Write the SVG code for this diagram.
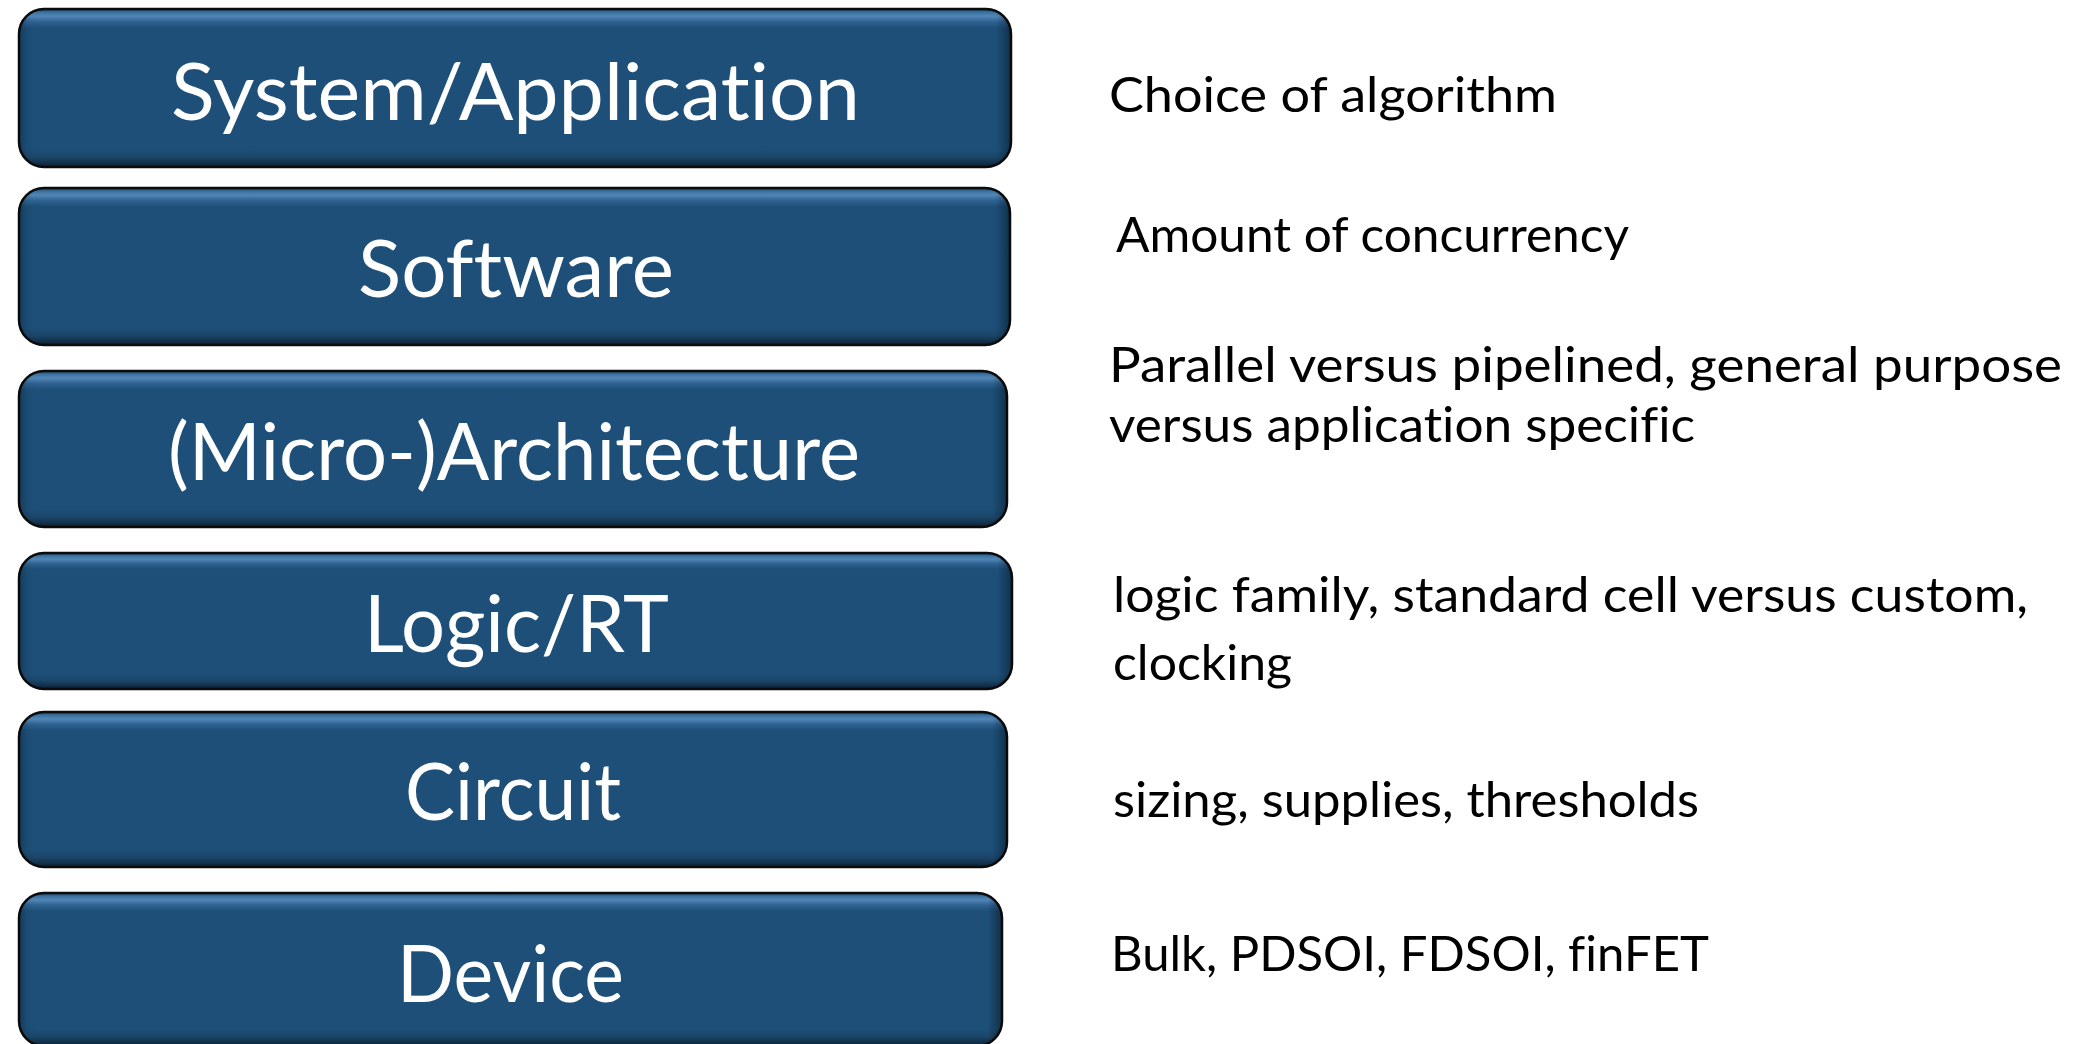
<svg xmlns="http://www.w3.org/2000/svg" width="2087" height="1044" viewBox="0 0 2087 1044">
  <defs>
    <linearGradient id="vgrad" x1="0" y1="0" x2="0" y2="1">
      <stop offset="0" stop-color="#16405f"/>
      <stop offset="0.02" stop-color="#3a6f9e"/>
      <stop offset="0.045" stop-color="#5187b7"/>
      <stop offset="0.08" stop-color="#2f6291"/>
      <stop offset="0.12" stop-color="#1d4f78"/>
      <stop offset="0.89" stop-color="#1d4f78"/>
      <stop offset="0.94" stop-color="#1a4568"/>
      <stop offset="0.975" stop-color="#12304a"/>
      <stop offset="1" stop-color="#0c1f30"/>
    </linearGradient>
    <linearGradient id="hgrad" x1="0" y1="0" x2="1" y2="0">
      <stop offset="0" stop-color="#000" stop-opacity="0.25"/>
      <stop offset="0.008" stop-color="#000" stop-opacity="0.05"/>
      <stop offset="0.015" stop-color="#000" stop-opacity="0"/>
      <stop offset="0.985" stop-color="#000" stop-opacity="0"/>
      <stop offset="0.993" stop-color="#000" stop-opacity="0.2"/>
      <stop offset="1" stop-color="#000" stop-opacity="0.4"/>
    </linearGradient>
  </defs>
  <style>
    .box { fill: url(#vgrad); stroke: #0b0b0b; stroke-width: 2.5; }
    .shade { fill: url(#hgrad); stroke: none; }
    .label { font-family: Lato, "Liberation Sans", sans-serif; font-size: 80px; fill: #ffffff; font-variant-ligatures: none; }
    .note { font-family: Lato, "Liberation Sans", sans-serif; font-size: 48px; fill: #000000; font-variant-ligatures: none; }
  </style>
  <rect width="2087" height="1044" fill="#ffffff"/>

  <g id="node-system">
    <rect class="box" x="19" y="9" width="992" height="158" rx="25" ry="25"/>
    <rect class="shade" x="19" y="9" width="992" height="158" rx="25" ry="25"/>
    <text class="label" x="171" y="120" textLength="689" lengthAdjust="spacingAndGlyphs">System/Application</text>
  </g>
  <g id="node-software">
    <rect class="box" x="19" y="188" width="991" height="157" rx="25" ry="25"/>
    <rect class="shade" x="19" y="188" width="991" height="157" rx="25" ry="25"/>
    <text class="label" x="358" y="297" textLength="316" lengthAdjust="spacingAndGlyphs">Software</text>
  </g>
  <g id="node-architecture">
    <rect class="box" x="19" y="371" width="988" height="156" rx="25" ry="25"/>
    <rect class="shade" x="19" y="371" width="988" height="156" rx="25" ry="25"/>
    <text class="label" x="168" y="480" textLength="692" lengthAdjust="spacingAndGlyphs">(Micro-)Architecture</text>
  </g>
  <g id="node-logic">
    <rect class="box" x="19" y="553" width="993" height="136" rx="25" ry="25"/>
    <rect class="shade" x="19" y="553" width="993" height="136" rx="25" ry="25"/>
    <text class="label" x="364" y="652" textLength="305" lengthAdjust="spacingAndGlyphs">Logic/RT</text>
  </g>
  <g id="node-circuit">
    <rect class="box" x="19" y="712" width="988" height="155" rx="25" ry="25"/>
    <rect class="shade" x="19" y="712" width="988" height="155" rx="25" ry="25"/>
    <text class="label" x="405" y="820" textLength="216" lengthAdjust="spacingAndGlyphs">Circuit</text>
  </g>
  <g id="node-device">
    <rect class="box" x="19" y="893" width="983" height="153" rx="25" ry="25"/>
    <rect class="shade" x="19" y="893" width="983" height="153" rx="25" ry="25"/>
    <text class="label" x="397" y="1002" textLength="227" lengthAdjust="spacingAndGlyphs">Device</text>
  </g>

  <g id="connectors"></g>

  <g id="notes">
    <text class="note" x="1109" y="112" textLength="448" lengthAdjust="spacingAndGlyphs">Choice of algorithm</text>
    <text class="note" x="1116" y="252" textLength="513" lengthAdjust="spacingAndGlyphs">Amount of concurrency</text>
    <text class="note" x="1109" y="382" textLength="953" lengthAdjust="spacingAndGlyphs">Parallel versus pipelined, general purpose</text>
    <text class="note" x="1109" y="442" textLength="586" lengthAdjust="spacingAndGlyphs">versus application specific</text>
    <text class="note" x="1113" y="612" textLength="915" lengthAdjust="spacingAndGlyphs">logic family, standard cell versus custom,</text>
    <text class="note" x="1113" y="680" textLength="179" lengthAdjust="spacingAndGlyphs">clocking</text>
    <text class="note" x="1113" y="817" textLength="586" lengthAdjust="spacingAndGlyphs">sizing, supplies, thresholds</text>
    <text class="note" x="1111" y="971" textLength="598" lengthAdjust="spacingAndGlyphs">Bulk, PDSOI, FDSOI, finFET</text>
  </g>
</svg>
